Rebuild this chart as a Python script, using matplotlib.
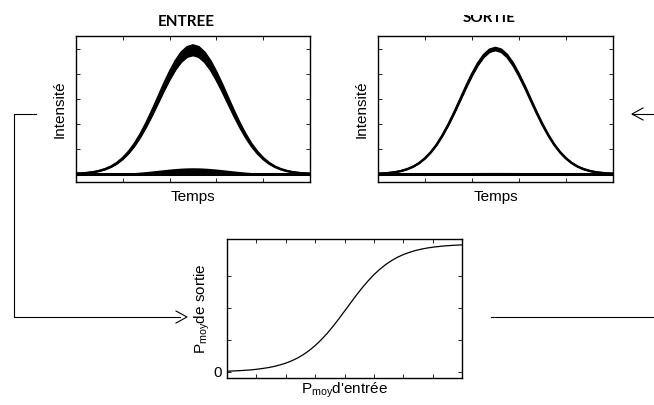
import numpy as np
import matplotlib.pyplot as plt
from matplotlib.patches import Rectangle
from matplotlib.lines import Line2D

plt.rcParams['font.family'] = ['Liberation Sans', 'DejaVu Sans']
plt.rcParams['mathtext.fontset'] = 'custom'
plt.rcParams['mathtext.rm'] = 'Liberation Sans'
plt.rcParams['mathtext.it'] = 'Liberation Sans:italic'

# normalised time axis and pulse shape
t = [0.0, 0.025, 0.05, 0.075, 0.1, 0.125, 0.15, 0.175, 0.2, 0.225,
     0.25, 0.275, 0.3, 0.325, 0.35, 0.375, 0.4, 0.425, 0.45, 0.475,
     0.5, 0.525, 0.55, 0.575, 0.6, 0.625, 0.65, 0.675, 0.7, 0.725,
     0.75, 0.775, 0.8, 0.825, 0.85, 0.875, 0.9, 0.925, 0.95, 0.975, 1.0]
pulse = [0.003, 0.005, 0.009, 0.015, 0.025, 0.039, 0.059, 0.087, 0.125, 0.174,
         0.235, 0.310, 0.396, 0.492, 0.594, 0.697, 0.793, 0.878, 0.944, 0.986,
         1.0, 0.986, 0.944, 0.878, 0.793, 0.697, 0.594, 0.492, 0.396, 0.310,
         0.235, 0.174, 0.125, 0.087, 0.059, 0.039, 0.025, 0.015, 0.009, 0.005, 0.003]

# pulse amplitudes (low / high envelope) for the "1" and "0" bits
entree_one = (0.95, 1.03)
entree_zero = (0.0, 0.05)
sortie_one = (0.99, 1.01)
sortie_zero = (0.0, 0.015)

# transfer curve: mean output power vs mean input power
p_in = t
p_out = [0.006, 0.008, 0.010, 0.013, 0.016, 0.021, 0.027, 0.034, 0.043, 0.055,
         0.069, 0.087, 0.109, 0.136, 0.168, 0.206, 0.250, 0.299, 0.354, 0.413,
         0.475, 0.537, 0.599, 0.657, 0.711, 0.760, 0.802, 0.839, 0.870, 0.896,
         0.917, 0.934, 0.948, 0.959, 0.968, 0.975, 0.980, 0.985, 0.988, 0.991, 0.993]

W, H = 654, 405
fig = plt.figure(figsize=(W / 100, H / 100), dpi=100)


def px_axes(left, top, right, bottom):
    return fig.add_axes([left / W, 1 - bottom / H, (right - left) / W, (bottom - top) / H])


def style(ax):
    ax.tick_params(direction='in', length=3, width=0.6, top=True, right=True,
                   labelbottom=False, labelleft=False)
    for s in ax.spines.values():
        s.set_linewidth(1.0)


def pulse_panel(ax, one, zero, zero_color, title, title_y):
    sh = np.array(pulse)
    ax.fill_between(t, zero[0] * sh, zero[1] * sh, color=zero_color, lw=0, zorder=1)
    ax.axhline(0, color='k', lw=2.2, zorder=2)
    ax.fill_between(t, one[0] * sh, one[1] * sh, color='k', lw=0, zorder=3)
    ax.plot(t, one[0] * sh, color='k', lw=1.6, zorder=3)
    ax.plot(t, one[1] * sh, color='k', lw=1.6, zorder=3)
    ax.set_xlim(0, 1)
    ax.set_ylim(-0.064, 1.104)
    ax.set_xticks(np.arange(0, 1.01, 0.2))
    ax.set_yticks(np.arange(0, 1.01, 0.2))
    style(ax)
    ax.set_xlabel('Temps', fontsize=11, labelpad=6)
    ax.set_ylabel('Intensité', fontsize=11, labelpad=7)
    ax.text(0.472, title_y, title, transform=ax.transAxes, ha='center', va='baseline',
            fontsize=11, fontweight='bold', family=['Lato', 'DejaVu Sans'])


ax1 = px_axes(76, 36, 310, 182)
pulse_panel(ax1, entree_one, entree_zero, 'k', 'ENTREE', 1.068)

ax2 = px_axes(378, 36, 613, 182)
pulse_panel(ax2, sortie_one, sortie_zero, '0.8', 'SORTIE', 1.096)

# top of "SORTIE" is cut off in the original
fig.add_artist(Rectangle((430 / W, 1 - 15 / H), 120 / W, 15 / H, transform=fig.transFigure,
                         facecolor='white', edgecolor='none', zorder=20))

ax3 = px_axes(227, 239, 462, 378)
ax3.plot(p_in, p_out, color='k', lw=0.9)
ax3.set_xlim(0, 1)
ax3.set_ylim(-0.047, 1.039)
ax3.set_xticks(np.arange(0, 1.01, 0.125))
ax3.set_yticks([0, 0.25, 0.5, 0.75])
style(ax3)
ax3.tick_params(labelleft=True, labelsize=11)
ax3.set_yticklabels(['0', '', '', ''])
ax3.set_xlabel(r"P$_{\mathrm{moy}}$d'entrée", fontsize=11, labelpad=2)
ax3.set_ylabel(r'P$_{\mathrm{moy}}$de sortie', fontsize=11, labelpad=1)


# connectors between the panels
def fp(x, y):
    return x / W, 1 - y / H


xs, ys = zip(fp(36, 114), fp(14, 114), fp(14, 317), fp(180, 317))
fig.add_artist(Line2D(xs, ys, transform=fig.transFigure, color='k', lw=0.8))
fig.add_artist(Line2D(*zip(fp(491, 317), fp(654, 317)), transform=fig.transFigure, color='k', lw=0.8))
fig.add_artist(Line2D(*zip(fp(632, 114), fp(654, 114)), transform=fig.transFigure, color='k', lw=0.8))
fig.add_artist(Line2D(*zip(fp(643, 108), fp(632, 114), fp(643, 120)), transform=fig.transFigure,
                      color='k', lw=0.8))
fig.add_artist(Line2D(*zip(fp(176, 311), fp(187, 317), fp(176, 323)), transform=fig.transFigure,
                      color='k', lw=0.8))

fig.savefig('out.png', dpi=100)
